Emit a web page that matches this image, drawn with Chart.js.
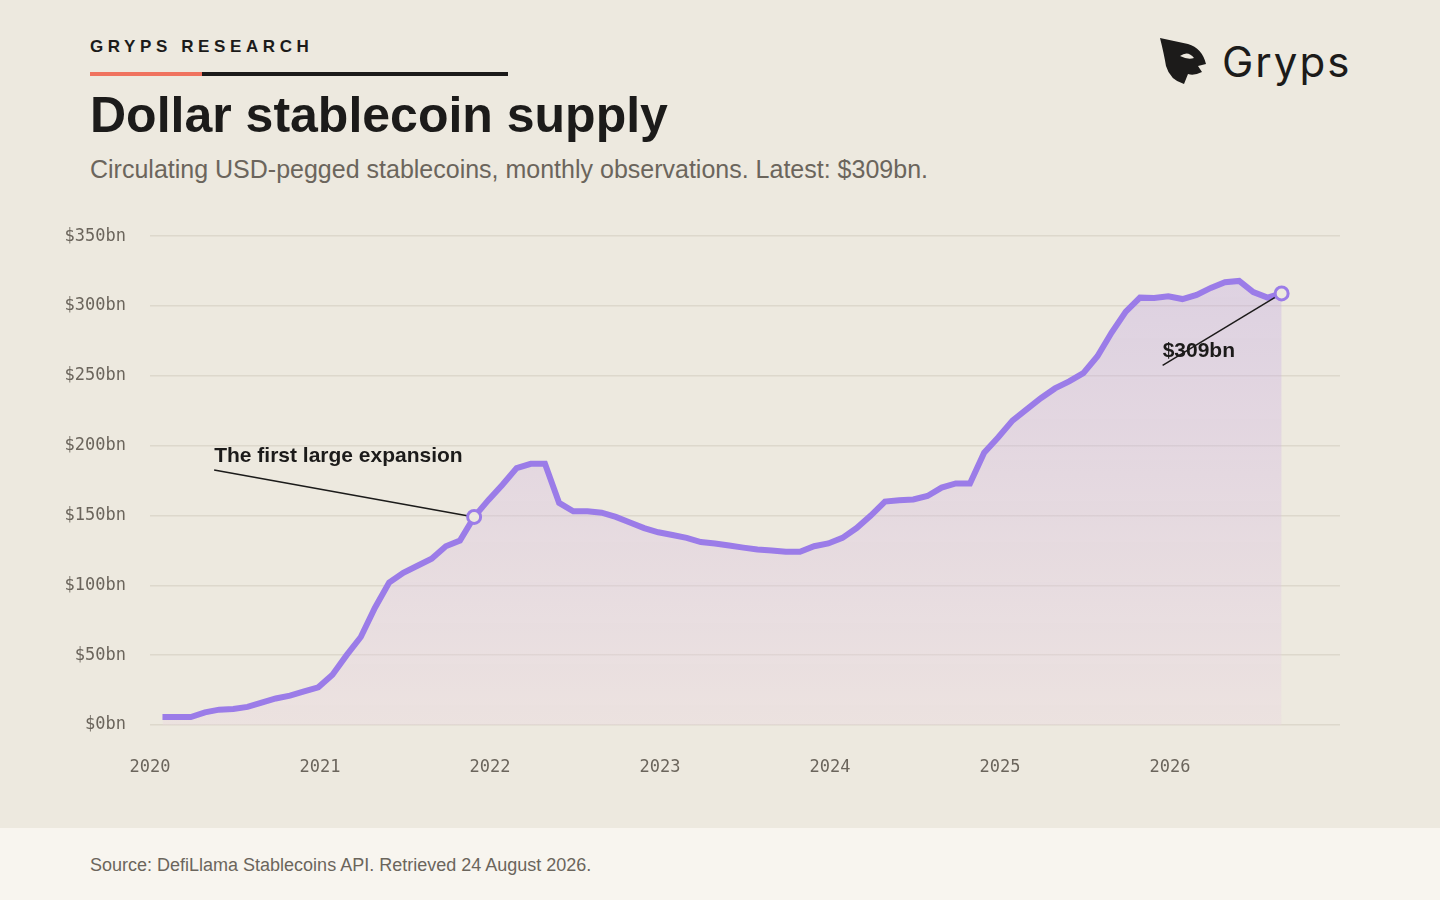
<!DOCTYPE html>
<html>
<head>
<meta charset="utf-8">
<script src="https://cdn.jsdelivr.net/npm/chart.js@4"></script>
<style>
  body { margin:0; width:1440px; height:900px; background:#ede9df; font-family:"Liberation Sans", Arial, sans-serif; position:relative; overflow:hidden; }
  .kicker { position:absolute; left:90px; top:37px; font-size:17px; font-weight:700; letter-spacing:4.6px; color:#1c1b1a; }
  .bar1 { position:absolute; left:90px; top:72px; width:112px; height:4px; background:#f0735f; }
  .bar2 { position:absolute; left:202px; top:72px; width:306px; height:4px; background:#1c1b1a; }
  h1 { position:absolute; left:90px; top:86px; margin:0; font-size:50px; font-weight:700; color:#1c1b1a; }
  .sub { position:absolute; left:90px; top:155px; font-size:25px; color:#6b655c; }
  .logo { position:absolute; left:1158px; top:36px; }
  .logo span { position:absolute; left:64px; top:0px; font-family:"Inter", "Noto Sans", sans-serif; font-size:42px; color:#1c1b1a; letter-spacing:2px; }
  #wrap { position:absolute; left:0; top:202px; width:1440px; height:580px; }
  .foot { position:absolute; left:0; top:828px; width:1440px; height:72px; background:#f8f5ef; }
  .foot span { position:absolute; left:90px; top:27px; font-size:18px; color:#6b655c; }
</style>
</head>
<body>
<div class="kicker">GRYPS RESEARCH</div>
<div class="bar1"></div><div class="bar2"></div>
<h1>Dollar stablecoin supply</h1>
<div class="sub">Circulating USD-pegged stablecoins, monthly observations. Latest: $309bn.</div>
<div class="logo">
  <svg width="52" height="50" viewBox="0 0 52 50">
    <path d="M2 2 L30 8 Q44 12 48 28 L40 30 L44 36 Q36 40 30 38 L26 48 Q12 44 8 30 Q6 18 2 2 Z" fill="#1c1b1a"/>
    <path d="M22 20 Q30 14 36 22 Q30 24 22 20 Z" fill="#ede9df"/>
  </svg>
  <span>Gryps</span>
</div>
<div id="wrap"><canvas id="chart" width="1440" height="580"></canvas></div>
<div class="foot"><span>Source: DefiLlama Stablecoins API. Retrieved 24 August 2026.</span></div>
<script>
// monthly observations, Feb 2020 .. Sep 2026
const months = [
  '2020-02','2020-03','2020-04','2020-05','2020-06','2020-07','2020-08','2020-09','2020-10','2020-11','2020-12',
  '2021-01','2021-02','2021-03','2021-04','2021-05','2021-06','2021-07','2021-08','2021-09','2021-10','2021-11','2021-12',
  '2022-01','2022-02','2022-03','2022-04','2022-05','2022-06','2022-07','2022-08','2022-09','2022-10','2022-11','2022-12',
  '2023-01','2023-02','2023-03','2023-04','2023-05','2023-06','2023-07','2023-08','2023-09','2023-10','2023-11','2023-12',
  '2024-01','2024-02','2024-03','2024-04','2024-05','2024-06','2024-07','2024-08','2024-09','2024-10','2024-11','2024-12',
  '2025-01','2025-02','2025-03','2025-04','2025-05','2025-06','2025-07','2025-08','2025-09','2025-10','2025-11','2025-12',
  '2026-01','2026-02','2026-03','2026-04','2026-05','2026-06','2026-07','2026-08','2026-09'
];
const supplyBn = [
  5.7,5.7,5.7,9,11,11.5,13,16,19,21,24,
  27,36,50,63,84,102,109,114,119,128,132,149,
  161,172,184,187,187,159,153,153,152,149,145,141,
  138,136,134,131,130,128.5,127,125.7,125,124,124,128,
  130,134,141,150,160,161,161.5,164,170,173,173,195,
  206,218,226,234,241,246,252,264,281,296,306,305.7,
  307,305,308,313,317,318,310,306,309
];
const yTicks = [0,50,100,150,200,250,300,350];
const yearTicks = [2020,2021,2022,2023,2024,2025,2026];
const notes = [
  { month:'2021-12', text:'The first large expansion', dx:-260, dy:-47 },
  { month:'2026-09', text:'$309bn', dx:-119, dy:72 }
];

function toYear(m) { const [y, mo] = m.split('-').map(Number); return y + (mo - 1) / 12 - 0.01; }
const points = months.map((m, i) => ({ x: toYear(m), y: supplyBn[i] }));

const annotate = {
  id: 'annotate',
  afterDatasetsDraw(chart) {
    const { ctx, scales: { x, y } } = chart;
    ctx.save();
    notes.forEach(n => {
      const i = months.indexOf(n.month);
      const px = x.getPixelForValue(toYear(n.month)), py = y.getPixelForValue(supplyBn[i]);
      const lx = px + n.dx, ly = py + n.dy;
      ctx.strokeStyle = '#1c1b1a'; ctx.lineWidth = 1.5;
      ctx.beginPath(); ctx.moveTo(lx, ly); ctx.lineTo(px, py); ctx.stroke();
      ctx.beginPath(); ctx.arc(px, py, 6.5, 0, Math.PI * 2);
      ctx.fillStyle = '#ede9df'; ctx.fill();
      ctx.strokeStyle = '#9b7ce8'; ctx.lineWidth = 3; ctx.stroke();
      ctx.fillStyle = '#1c1b1a'; ctx.font = '700 21px "Liberation Sans", Arial, sans-serif';
      ctx.textBaseline = 'alphabetic';
      ctx.fillText(n.text, lx, ly - 8);
    });
    ctx.restore();
  }
};

const mono = { family: '"DejaVu Sans Mono", monospace', size: 17 };
new Chart(document.getElementById('chart'), {
  type: 'line',
  data: { datasets: [{
    data: points,
    borderColor: '#9b7ce8',
    borderWidth: 6,
    pointRadius: 0,
    tension: 0,
    fill: 'origin',
    backgroundColor(c) {
      const a = c.chart.chartArea;
      if (!a) return 'rgba(155,124,232,0.15)';
      const g = c.chart.ctx.createLinearGradient(0, a.top, 0, a.bottom);
      g.addColorStop(0, 'rgba(185,150,230,0.30)');
      g.addColorStop(1, 'rgba(235,215,225,0.35)');
      return g;
    }
  }]},
  options: {
    responsive: false,
    animation: false,
    layout: { padding: { top: 7, right: 100, left: 0, bottom: 0 } },
    plugins: { legend: { display: false }, tooltip: { enabled: false } },
    scales: {
      x: {
        type: 'linear', min: 2020, max: 2027,
        afterBuildTicks(s) { s.ticks = yearTicks.map(v => ({ value: v })); },
        afterFit(s) { s.height = 57; },
        grid: { display: false }, border: { display: false },
        ticks: { color: '#6b655c', font: mono, padding: 24, callback: v => String(v) }
      },
      y: {
        min: 0, max: 350,
        afterBuildTicks(s) { s.ticks = yTicks.map(v => ({ value: v })); },
        afterFit(s) { s.width = 150; },
        grid: { color: '#ddd8cc', lineWidth: 1.5, drawTicks: false }, border: { display: false },
        ticks: { color: '#6b655c', font: mono, padding: 24, callback: v => '$' + v + 'bn' }
      }
    }
  },
  plugins: [annotate]
});
</script>
</body>
</html>
